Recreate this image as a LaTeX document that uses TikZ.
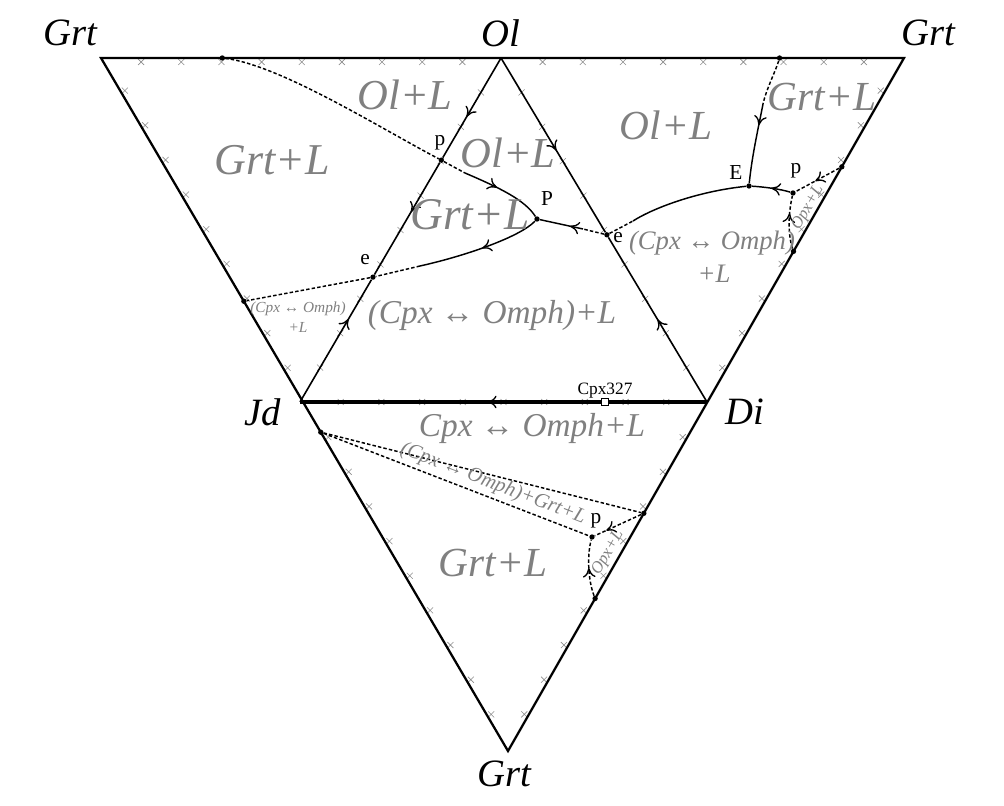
\documentclass[tikz,border=0pt]{standalone}
\usepackage{fontspec}
\setmainfont{Liberation Serif}
\usetikzlibrary{calc,arrows.meta,decorations.markings}

\begin{document}
\begin{tikzpicture}[x=0.75pt,y=-0.75pt]
\tikzset{edge/.style={line width=1.7pt,line join=miter}}
\tikzset{inner/.style={line width=1.2pt}}
\tikzset{crv/.style={line width=1.1pt}}
\tikzset{dsh/.style={line width=1.1pt,dash pattern=on 2.6pt off 1.6pt}}
\tikzset{tick/.style={black!45,line width=0.45pt}}
\tikzset{dot/.style={circle,fill,inner sep=0pt,minimum size=4pt}}
\tikzset{vtx/.style={font=\itshape\fontsize{29}{29}\selectfont}}
\tikzset{mk/.style={font=\fontsize{16}{16}\selectfont,inner sep=1pt}}
\tikzset{phase/.style={text=black!50,font=\itshape\fontsize{#1}{#1}\selectfont,inner sep=0pt}}
\tikzset{fwd/.style={postaction={decorate},decoration={markings,mark=at position #1 with {\arrow{To[length=7pt,width=9.5pt,line width=1pt]}}}}}
\useasboundingbox (0,0) rectangle (1004,806);

% corners of the diagram
\coordinate (TL) at (101,58);
\coordinate (TR) at (904,58);
\coordinate (B) at (508,751);
\coordinate (Ol) at (501,58);
\coordinate (Jd) at (300,402);
\coordinate (Di) at (707,402);

% scale ticks
\foreach \i in {1,...,9,11,12,...,19} {
  \draw[tick] ($(TL)!\i/20!(TR)+(0,4)$) +(-3,-3) -- +(3,3) +(-3,3) -- +(3,-3);
  \draw[tick] ($(TL)!\i/20!(B)+(3.5,-2)$) +(-3,-3) -- +(3,3) +(-3,3) -- +(3,-3);
  \draw[tick] ($(TR)!\i/20!(B)+(-3.5,-2)$) +(-3,-3) -- +(3,3) +(-3,3) -- +(3,-3);
}
\foreach \i in {1,...,9} {
  \draw[tick] ($(Ol)!\i/10!(Jd)$) +(-3,-3) -- +(3,3) +(-3,3) -- +(3,-3);
  \draw[tick] ($(Ol)!\i/10!(Di)$) +(-3,-3) -- +(3,3) +(-3,3) -- +(3,-3);
  \draw[tick] ($(Jd)!\i/10!(Di)$) +(-3,-3) -- +(3,3) +(-3,3) -- +(3,-3);
}

\draw[edge] (TL) -- (TR) -- (B) -- cycle;

% invariant points
\node[dot] (a1) at ($(TL)!0.151!(TR)$) {};
\node[dot] (a2) at ($(TL)!0.845!(TR)$) {};
\node[dot] (p1) at ($(Ol)!0.297!(Jd)$) {};
\node[dot] (e1) at ($(Ol)!0.637!(Jd)$) {};
\node[dot] (e2) at ($(Ol)!0.514!(Di)$) {};
\node[dot] (l1) at ($(TL)!0.351!(B)$) {};
\node[dot] (l2) at ($(TL)!0.54!(B)$) {};
\node[dot] (r1) at ($(TR)!0.157!(B)$) {};
\node[dot] (r2) at ($(TR)!0.279!(B)$) {};
\node[dot] (r3) at ($(TR)!0.657!(B)$) {};
\node[dot] (r4) at ($(TR)!0.78!(B)$) {};
\node[dot] (P) at (537,219) {};
\node[dot] (E) at (749,186) {};
\node[dot] (p2) at (793,193) {};
\node[dot] (p3) at (592,537) {};
\coordinate (k1) at (465,173);
\coordinate (k2) at (420,266);
\coordinate (k3) at (583,229);
\coordinate (k4) at (633,221);
\coordinate (k5) at (763,104);

% inner triangle
\draw[inner,fwd=0.59] (Ol) -- (p1);
\draw[inner,fwd=0.44] (p1) -- (e1);
\draw[inner,fwd=0.68] (Jd) -- (e1);
\draw[inner,fwd=0.53] (Ol) -- (e2);
\draw[inner,fwd=0.5] (Di) -- (e2);
\draw[line width=2.5pt,fwd=0.54] (Di) -- (Jd);
\node[draw,fill=white,inner sep=0pt,minimum size=5pt,line width=0.8pt] (cpx) at (605,402) {};
\node[mk,font=\fontsize{13}{13}\selectfont,above=2pt] at (cpx) {Cpx327};

% cotectic lines
\draw[dsh] (a1) .. controls (280,65) and (380,128) .. (p1);
\draw[dsh] (p1) -- (k1);
\draw[crv,fwd=0.42] (k1) .. controls (500,188) and (525,200) .. (P);
\draw[crv,fwd=0.48] (P) .. controls (520,237) and (465,256) .. (k2);
\draw[dsh] (k2) -- (e1) -- (l1);
\draw[dsh] (e2) -- (k3);
\draw[crv,fwd=0.3] (k3) -- (P);
\draw[dsh] (e2) -- (k4);
\draw[crv] (k4) .. controls (655,207) and (700,191) .. (E);
\draw[dsh] (a2) .. controls (776,70) and (766,90) .. (k5);
\draw[crv,fwd=0.27] (k5) .. controls (759,125) and (752,155) .. (E);
\draw[crv,fwd=0.5] (p2) .. controls (780,189) and (765,187) .. (E);
\draw[dsh,fwd=0.55] (r1) -- (p2);
\draw[dsh,fwd=0.67] (r2) .. controls (788,235) and (788,215) .. (p2);
\draw[dsh] (l2) -- (r3);
\draw[dsh] (l2) -- (p3);
\draw[dsh,fwd=0.75] (r3) -- (p3);
\draw[dsh,fwd=0.5] (r4) .. controls (588,580) and (587,555) .. (p3);

% apices
\node[vtx] (nTL) at (70,33) {Grt};
\node[vtx] (nOl) at (501,33) {Ol};
\node[vtx] (nTR) at (928,33) {Grt};
\node[vtx] (nJd) at (263,412) {Jd};
\node[vtx] (nDi) at (745,412) {Di};
\node[vtx] (nB) at (504,774) {Grt};

% point labels
\node[mk] at (440,143) {p};
\node[mk] at (547,199) {P};
\node[mk] at (365,260) {e};
\node[mk] at (618,238) {e};
\node[mk] at (736,173) {E};
\node[mk] at (796,171) {p};
\node[mk] at (596,521) {p};

% fields
\node[phase=32] at (405,95) {Ol+L};
\node[phase=33] at (272,160) {Grt+L};
\node[phase=32] at (508,153) {Ol+L};
\node[phase=31] at (666,125) {Ol+L};
\node[phase=34] at (470,215) {Grt+L};
\node[phase=31] at (822,97) {Grt+L};
\node[phase=31] at (493,563) {Grt+L};
\node[phase=25] at (492,315) {(Cpx ↔ Omph)+L};
\node[phase=25] at (532,428) {Cpx ↔ Omph+L};
\node[phase=20] at (712,243) {(Cpx ↔ Omph)};
\node[phase=20] at (714,274) {+L};
\node[phase=11.5] at (298,309) {(Cpx ↔ Omph)};
\node[phase=11.5] at (298,327) {+L};
\node[phase=15.5,rotate=-21] at (493,484) {(Cpx ↔ Omph)+Grt+L};
\node[phase=12.5,rotate=60] at (608,553) {Opx+L};
\node[phase=12.5,rotate=60] at (808,208) {Opx+L};
\end{tikzpicture}
\end{document}
